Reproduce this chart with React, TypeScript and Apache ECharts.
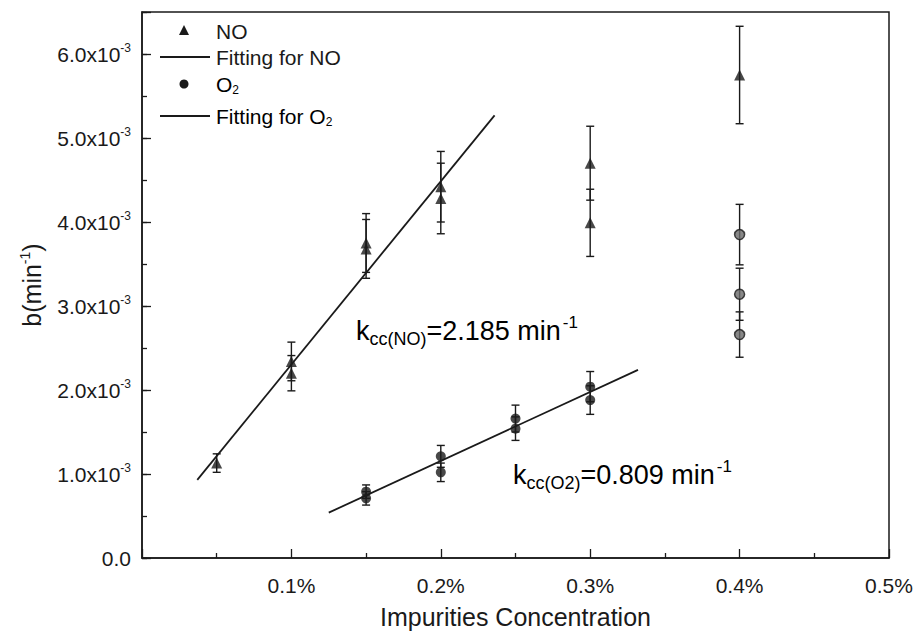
import React, { useEffect, useRef } from "react";
import * as echarts from "echarts";

// Impurity concentration in %, b in units of 1e-3 min^-1
const noConc = [0.05, 0.1, 0.1, 0.15, 0.15, 0.2, 0.2, 0.3, 0.3, 0.4];
const noB = [1.13, 2.34, 2.2, 3.75, 3.68, 4.42, 4.28, 4.7, 3.99, 5.75];
const noErr = [0.11, 0.23, 0.21, 0.35, 0.35, 0.42, 0.42, 0.44, 0.4, 0.58];

const o2Conc = [0.15, 0.15, 0.2, 0.2, 0.25, 0.25, 0.3, 0.3, 0.4, 0.4, 0.4];
const o2B = [0.79, 0.71, 1.21, 1.02, 1.66, 1.54, 2.04, 1.88, 3.85, 3.14, 2.66];
const o2Err = [0.08, 0.08, 0.13, 0.11, 0.16, 0.14, 0.18, 0.17, 0.36, 0.31, 0.27];

const noFitConc = [0.037, 0.236];
const noFitB = [0.93, 5.27];
const o2FitConc = [0.125, 0.332];
const o2FitB = [0.54, 2.24];

const xTicks = [0, 0.1, 0.2, 0.3, 0.4, 0.5];
const yTicks = [0, 1, 2, 3, 4, 5, 6];

const FONT = "Liberation Sans, Arial, sans-serif";
const INK = "#1a1a1a";

function errorBarSeries(name: string, xs: number[], ys: number[], es: number[]) {
  return {
    name,
    type: "custom",
    silent: true,
    data: xs.map((x, i) => [x, ys[i], es[i]]),
    encode: { x: 0, y: 1 },
    renderItem: (params: any, api: any) => {
      const x = api.value(0);
      const y = api.value(1);
      const e = api.value(2);
      const top = api.coord([x, y + e]);
      const bot = api.coord([x, y - e]);
      const hw = 4;
      const st = { stroke: INK, lineWidth: 1.4 };
      return {
        type: "group",
        children: [
          { type: "line", shape: { x1: top[0], y1: top[1], x2: bot[0], y2: bot[1] }, style: st },
          { type: "line", shape: { x1: top[0] - hw, y1: top[1], x2: top[0] + hw, y2: top[1] }, style: st },
          { type: "line", shape: { x1: bot[0] - hw, y1: bot[1], x2: bot[0] + hw, y2: bot[1] }, style: st },
        ],
      };
    },
    z: 2,
  };
}

export default function App() {
  const ref = useRef<HTMLDivElement>(null);

  useEffect(() => {
    document.body.style.margin = "0";
    if (!ref.current) return;
    const chart = echarts.init(ref.current, undefined, { renderer: "svg" });

    const supRich = {
      n: { fontSize: 21, fontFamily: FONT, color: INK },
      s: { fontSize: 12, fontFamily: FONT, color: INK, padding: [0, 0, 13, 0] },
    };
    const annRich = {
      k: { fontSize: 27, fontFamily: FONT, color: INK },
      sub: { fontSize: 18, fontFamily: FONT, color: INK, padding: [15, 0, 0, 0] },
      sup: { fontSize: 17, fontFamily: FONT, color: INK, padding: [0, 0, 17, 2] },
    };
    const legRich = {
      a: { fontSize: 21, fontFamily: FONT, color: INK },
      b: { fontSize: 12, fontFamily: FONT, color: INK, padding: [12, 0, 0, 0] },
    };

    const option: any = {
      animation: false,
      backgroundColor: "#ffffff",
      textStyle: { fontFamily: FONT },
      grid: { left: 142, right: 26, top: 12, bottom: 75, show: true, borderColor: INK, borderWidth: 1.5, backgroundColor: "transparent", outerBoundsMode: "none" },
      xAxis: {
        type: "value",
        min: xTicks[0],
        max: xTicks[xTicks.length - 1],
        interval: 0.1,
        axisLine: { show: true, lineStyle: { color: INK, width: 1.5 } },
        axisTick: { show: true, inside: true, length: 9, lineStyle: { color: INK, width: 1.3 } },
        minorTick: { show: true, splitNumber: 2, length: 5, lineStyle: { color: INK, width: 1.3 } },
        splitLine: { show: false },
        axisLabel: {
          margin: 17,
          fontSize: 21,
          color: INK,
          fontFamily: FONT,
          formatter: (v: number) => (v === 0 ? "" : `${v.toFixed(1)}%`),
        },
        name: "Impurities Concentration",
        nameLocation: "middle",
        nameGap: 46,
        nameTextStyle: { fontSize: 25, color: INK, fontFamily: FONT, lineHeight: 26 },
      },
      yAxis: [
        {
          type: "value",
          min: 0,
          max: 6.5,
          interval: 0.5,
          position: "left",
          axisLine: { show: true, lineStyle: { color: INK, width: 1.5 } },
          axisTick: { show: true, inside: true, length: 5, lineStyle: { color: INK, width: 1.3 } },
          axisLabel: { show: false },
          splitLine: { show: false },
          name: "{a|b(min}{s|-1}{a|)}",
          nameLocation: "middle",
          nameGap: 96,
          nameRotate: 90,
          nameTextStyle: {
            color: INK,
            rich: {
              a: { fontSize: 25, fontFamily: FONT, color: INK },
              s: { fontSize: 14, fontFamily: FONT, color: INK, padding: [0, 0, 14, 0] },
            },
          },
        },
        {
          type: "value",
          min: 0,
          max: 6.5,
          interval: 1,
          position: "left",
          axisLine: { show: false },
          axisTick: { show: true, inside: true, length: 9, lineStyle: { color: INK, width: 1.3 } },
          splitLine: { show: false },
          axisLabel: {
            margin: 11,
            color: INK,
            rich: supRich,
            formatter: (v: number) => {
              if (!yTicks.includes(Math.round(v * 10) / 10)) return "";
              if (v === 0) return "{n|0.0}";
              return `{n|${v.toFixed(1)}x10}{s|-3}`;
            },
          },
        },
      ],
      series: [
        {
          name: "Fitting for NO",
          type: "line",
          data: noFitConc.map((x, i) => [x, noFitB[i]]),
          symbol: "none",
          lineStyle: { color: INK, width: 1.8 },
          z: 1,
        },
        {
          name: "Fitting for O2",
          type: "line",
          data: o2FitConc.map((x, i) => [x, o2FitB[i]]),
          symbol: "none",
          lineStyle: { color: INK, width: 1.8 },
          z: 1,
        },
        errorBarSeries("NO error", noConc, noB, noErr),
        errorBarSeries("O2 error", o2Conc, o2B, o2Err),
        {
          name: "NO",
          type: "scatter",
          symbol: "triangle",
          symbolSize: 11,
          data: noConc.map((x, i) => [x, noB[i]]),
          itemStyle: { color: INK },
          z: 3,
        },
        {
          name: "O2",
          type: "scatter",
          symbol: "circle",
          symbolSize: 10,
          data: o2Conc.map((x, i) => ({
            value: [x, o2B[i]],
            itemStyle: x >= 0.4 ? { color: "#6a6a6a", borderColor: INK, borderWidth: 1.5 } : { color: INK },
          })),
          z: 3,
        },
      ],
      graphic: [
        // legend
        { type: "polygon", shape: { points: [[184, 25], [189, 35], [179, 35]] }, style: { fill: INK } },
        { type: "text", x: 216, y: 31, style: { text: "NO", font: `21px ${FONT}`, fill: INK, verticalAlign: "middle" } },
        { type: "line", shape: { x1: 160, y1: 57, x2: 210, y2: 57 }, style: { stroke: INK, lineWidth: 1.8 } },
        { type: "text", x: 216, y: 57, style: { text: "Fitting for NO", font: `21px ${FONT}`, fill: INK, verticalAlign: "middle" } },
        { type: "circle", shape: { cx: 184, cy: 84, r: 4.5 }, style: { fill: INK } },
        { type: "text", x: 216, y: 84, style: { text: "{a|O}{b|2}", verticalAlign: "middle", rich: legRich } },
        { type: "line", shape: { x1: 160, y1: 116, x2: 210, y2: 116 }, style: { stroke: INK, lineWidth: 1.8 } },
        { type: "text", x: 216, y: 116, style: { text: "{a|Fitting for O}{b|2}", verticalAlign: "middle", rich: legRich } },
        // annotations
        { type: "text", x: 356, y: 331, style: { text: "{k|k}{sub|cc(NO)}{k|=2.185 min}{sup|-1}", verticalAlign: "middle", rich: annRich } },
        { type: "text", x: 513, y: 475, style: { text: "{k|k}{sub|cc(O2)}{k|=0.809 min}{sup|-1}", verticalAlign: "middle", rich: annRich } },
      ],
    };

    chart.setOption(option);
    return () => chart.dispose();
  }, []);

  return <div ref={ref} style={{ width: 915, height: 633, position: "absolute", left: 0, top: 0 }} />;
}
